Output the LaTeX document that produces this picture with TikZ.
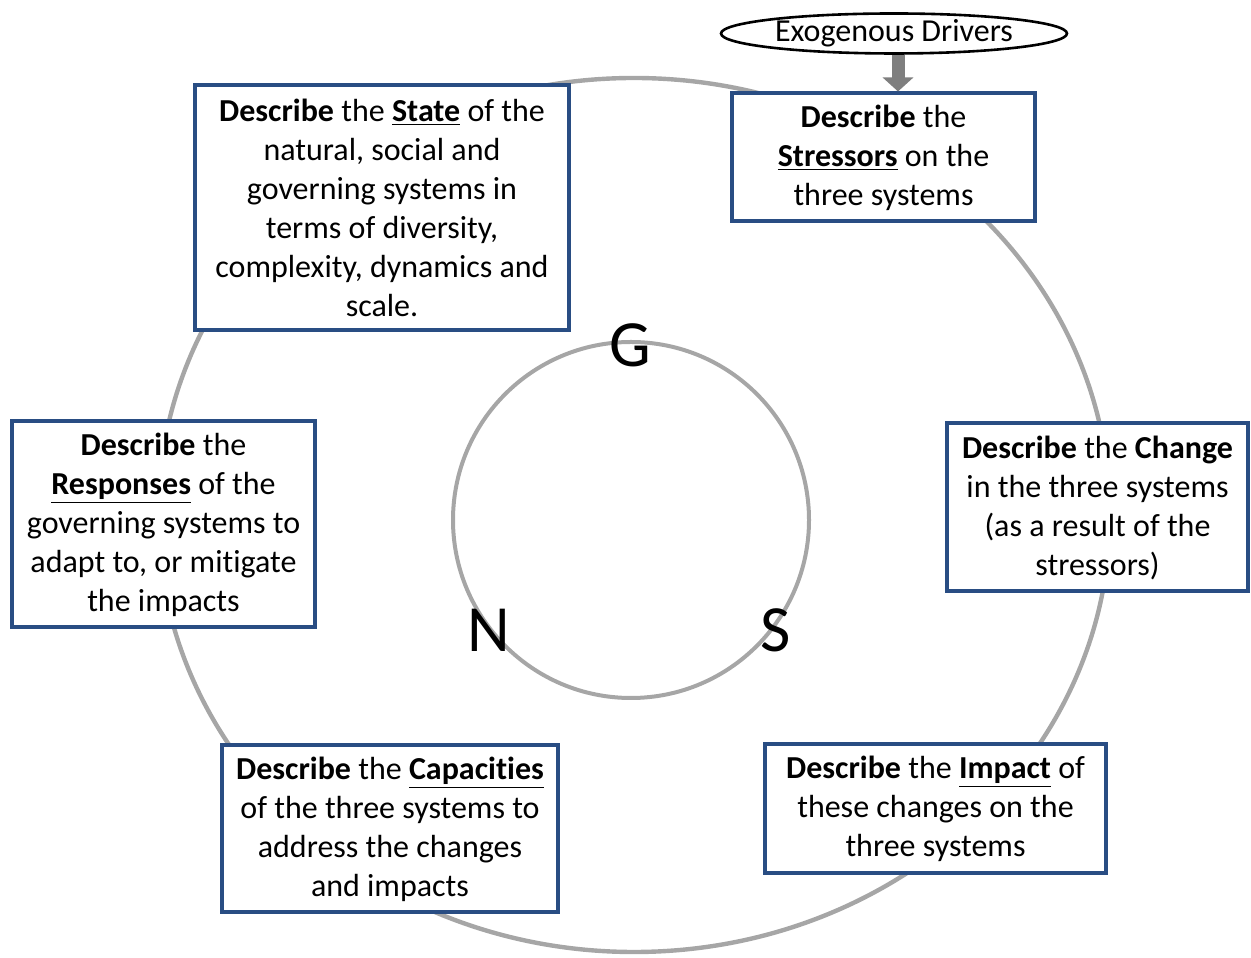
\documentclass[tikz,border=0pt]{standalone}
\usepackage{fontspec}
\setmainfont{Carlito}[Ligatures=NoCommon]
\usetikzlibrary{shapes.geometric,arrows.meta}
\definecolor{boxblue}{RGB}{41,77,131}
\definecolor{ringgray}{RGB}{166,166,166}
\definecolor{arrowgray}{RGB}{127,127,127}
\tikzset{
  stepbox/.style={draw=boxblue, line width=2pt, fill=white, align=center,
    inner sep=0pt, font=\fontsize{16}{19.5}\selectfont},
  ring/.style={draw=ringgray, line width=2.2pt},
  sysletter/.style={font=\fontsize{33}{36}\selectfont},
}
\begin{document}
\begin{tikzpicture}[x=0.5pt,y=0.5pt]
\useasboundingbox (0,0) rectangle (1251,957);
% outer cycle and inner circle
\draw[ring] (634,442) ellipse [x radius=476, y radius=437];
\draw[ring, line width=2pt] (631,437) circle [radius=178];
\node[sysletter] (g) at (630,612) {G};
\node[sysletter] (n) at (489,327) {N};
\node[sysletter] (s) at (776,327) {S};
% the six steps
\node[stepbox, minimum width=187pt, minimum height=122.5pt] (state) at (382,749)
  {\textbf{Describe} the \underline{\textbf{State}} of the\\ natural, social and\\
   governing systems in\\ terms of diversity,\\ complexity, dynamics and\\ scale.};
\node[stepbox, minimum width=151.5pt, minimum height=64pt] (stress) at (883.5,799.5)
  {\textbf{Describe} the\\ \underline{\textbf{Stressors}} on the\\ three systems};
\node[stepbox, minimum width=150.5pt, minimum height=84pt] (change) at (1097.5,449.5)
  {\textbf{Describe} the \textbf{Change}\\ in the three systems\\ (as a result of the\\ stressors)};
\node[stepbox, minimum width=170.5pt, minimum height=64.5pt] (impact) at (935.5,148)
  {\textbf{Describe} the \underline{\textbf{Impact}} of\\ these changes on the\\ three systems};
\node[stepbox, minimum width=168pt, minimum height=83.5pt] (capac) at (390,128)
  {\textbf{Describe} the \underline{\textbf{Capacities}}\\ of the three systems to\\
   address the changes\\ and impacts};
\node[stepbox, minimum width=151.5pt, minimum height=103pt] (resp) at (163.5,432.5)
  {\textbf{Describe} the\\ \underline{\textbf{Responses}} of the\\ governing systems to\\
   adapt to, or mitigate\\ the impacts};
% drivers
\node[draw, ellipse, line width=1.3pt, minimum width=173pt, minimum height=20pt,
  inner sep=0pt, font=\fontsize{16}{19.5}\selectfont] (exo) at (894,923.5) {Exogenous Drivers};
\coordinate (ar) at (898,0);
\draw[arrowgray, line width=6.5pt, -{Triangle[width=15pt,length=7pt]}]
  (exo.south -| ar) -- (stress.north -| ar);
\end{tikzpicture}
\end{document}
